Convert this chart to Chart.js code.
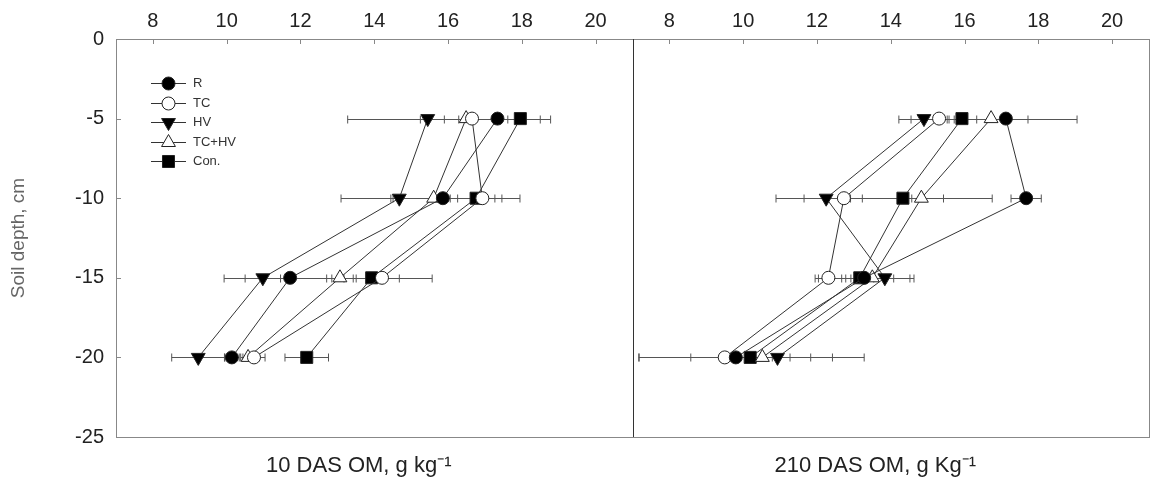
<!DOCTYPE html>
<html>
<head>
<meta charset="utf-8">
<script src="https://cdn.jsdelivr.net/npm/chart.js@4.4.0/dist/chart.umd.min.js"></script>
<style>
  html, body { margin: 0; padding: 0; background: #fff; }
  #wrap { width: 1171px; height: 493px; position: relative; }
</style>
</head>
<body>
<div id="wrap"><canvas id="grafico"></canvas></div>
<script>
// ======== Data ========

const depths = [-5, -10, -15, -20];
const seriesNames = ['R', 'TC', 'HV', 'TC+HV', 'Con.'];
const xTicks = [8, 10, 12, 14, 16, 18, 20];
const yTicks = [0, -5, -10, -15, -20, -25];

// 10 DAS OM (left panel)
const om10R = [17.34, 15.86, 11.72, 10.14];
const om10TC = [16.65, 16.93, 14.21, 10.74];
const om10HV = [15.45, 14.68, 10.98, 9.23];
const om10TCHV = [16.49, 15.61, 13.07, 10.58];
const om10Con = [17.96, 16.76, 13.93, 12.17];

const err10R = [1.44, 1.41, 1.79, 0.2];
const err10TC = [1.4, 1.02, 1.36, 0.3];
const err10HV = [2.17, 1.58, 0.48, 0.72];
const err10TCHV = [0.2, 1.1, 0.36, 0.2];
const err10Con = [0.54, 0.7, 0.75, 0.59];

// 210 DAS OM (right panel)
const om210R = [17.12, 17.67, 13.28, 9.8];
const om210TC = [15.31, 12.73, 12.31, 9.5];
const om210HV = [14.9, 12.25, 13.84, 10.93];
const om210TCHV = [16.72, 14.83, 13.5, 10.52];
const om210Con = [15.93, 14.33, 13.16, 10.19];

const err210R = [1.93, 0.41, 1.24, 2.62];
const err210TC = [0.76, 1.84, 0.36, 2.33];
const err210HV = [0.68, 0.6, 0.79, 2.35];
const err210TCHV = [1.0, 1.92, 0.58, 0.75];
const err210Con = [0.4, 1.1, 0.38, 0.6];

const om10 = [om10R, om10TC, om10HV, om10TCHV, om10Con];
const err10 = [err10R, err10TC, err10HV, err10TCHV, err10Con];
const om210 = [om210R, om210TC, om210HV, om210TCHV, om210Con];
const err210 = [err210R, err210TC, err210HV, err210TCHV, err210Con];

// marker look for each treatment
const markers = [
  { pointStyle: 'circle', radius: 6.5, fill: '#000', rotation: 0 },
  { pointStyle: 'circle', radius: 6.5, fill: '#fff', rotation: 0 },
  { pointStyle: 'triangle', radius: 8, fill: '#000', rotation: 180 },
  { pointStyle: 'triangle', radius: 8, fill: '#fff', rotation: 0 },
  { pointStyle: 'rect', radius: 8.5, fill: '#000', rotation: 0 },
];

Chart.defaults.font.family = '"Liberation Sans", Arial, sans-serif';
Chart.defaults.color = '#222';

function makeDatasets(values, errors, axisId) {
  return values.map((serie, i) => ({
    label: seriesNames[i],
    data: serie.map((v, j) => ({ x: v, y: depths[j] })),
    errors: errors[i],
    xAxisID: axisId,
    yAxisID: 'y',
    borderColor: '#333',
    borderWidth: 1,
    pointStyle: markers[i].pointStyle,
    pointRadius: markers[i].radius,
    pointHoverRadius: markers[i].radius,
    pointRotation: markers[i].rotation,
    pointBackgroundColor: markers[i].fill,
    pointBorderColor: '#222',
    pointBorderWidth: 1,
    fill: false,
    tension: 0,
  }));
}

// ======== Plugins ========

// horizontal error bars, under the markers
const errorBars = {
  id: 'errorBars',
  beforeDatasetsDraw(chart) {
    const ctx = chart.ctx;
    const yScale = chart.scales.y;
    ctx.save();
    ctx.strokeStyle = '#555';
    ctx.lineWidth = 1;
    chart.data.datasets.forEach((ds) => {
      const xScale = chart.scales[ds.xAxisID];
      ds.data.forEach((p, j) => {
        const e = ds.errors[j];
        const x1 = xScale.getPixelForValue(p.x - e);
        const x2 = xScale.getPixelForValue(p.x + e);
        const py = Math.round(yScale.getPixelForValue(p.y)) + 0.5;
        ctx.beginPath();
        ctx.moveTo(x1, py);
        ctx.lineTo(x2, py);
        ctx.moveTo(x1, py - 4);
        ctx.lineTo(x1, py + 4);
        ctx.moveTo(x2, py - 4);
        ctx.lineTo(x2, py + 4);
        ctx.stroke();
      });
    });
    ctx.restore();
  },
};

// frame, divider and inward tick marks
const frame = {
  id: 'frame',
  afterDatasetsDraw(chart) {
    const ctx = chart.ctx;
    const a = chart.chartArea;
    const yScale = chart.scales.y;
    ctx.save();
    ctx.lineWidth = 1;
    ctx.strokeStyle = '#888';
    ctx.strokeRect(Math.round(a.left) + 0.5, Math.round(a.top) + 0.5,
      Math.round(a.right - a.left), Math.round(a.bottom - a.top));

    ctx.beginPath();
    ['x', 'x2'].forEach((id) => {
      const s = chart.scales[id];
      xTicks.forEach((v) => {
        const px = Math.round(s.getPixelForValue(v)) + 0.5;
        ctx.moveTo(px, a.top);
        ctx.lineTo(px, a.top + 5);
      });
    });
    yTicks.forEach((v) => {
      const py = Math.round(yScale.getPixelForValue(v)) + 0.5;
      ctx.moveTo(a.left, py);
      ctx.lineTo(a.left + 5, py);
    });
    ctx.stroke();

    // divider between the two panels
    const xd = Math.round(chart.scales.x.right) + 0.5;
    ctx.strokeStyle = '#333';
    ctx.beginPath();
    ctx.moveTo(xd, a.top);
    ctx.lineTo(xd, a.bottom);
    ctx.stroke();
    ctx.restore();
  },
};

// legend with line + marker, inside the left panel
const legendBox = {
  id: 'legendBox',
  afterDraw(chart) {
    const ctx = chart.ctx;
    const a = chart.chartArea;
    const x0 = a.left + 35;
    const y0 = a.top + 44;
    ctx.save();
    seriesNames.forEach((name, i) => {
      const yy = y0 + i * 19.6;
      ctx.strokeStyle = '#333';
      ctx.lineWidth = 1;
      ctx.beginPath();
      ctx.moveTo(x0, Math.round(yy) + 0.5);
      ctx.lineTo(x0 + 35, Math.round(yy) + 0.5);
      ctx.stroke();
      ctx.fillStyle = markers[i].fill;
      ctx.strokeStyle = '#222';
      Chart.helpers.drawPoint(ctx, {
        pointStyle: markers[i].pointStyle,
        radius: markers[i].radius,
        rotation: markers[i].rotation,
        borderWidth: 1,
      }, x0 + 17.5, Math.round(yy) + 0.5);
      ctx.fillStyle = '#333';
      ctx.font = '13px "Liberation Sans", Arial, sans-serif';
      ctx.textBaseline = 'middle';
      ctx.fillText(name, x0 + 42, Math.round(yy) + 0.5);
    });
    ctx.restore();
  },
};

// ======== Scales ========

function topAxis() {
  return {
    type: 'linear',
    position: 'top',
    stack: 'top',
    min: 7,
    max: 21,
    afterBuildTicks: (s) => { s.ticks = xTicks.map((v) => ({ value: v })); },
    afterFit: (s) => { s.height = 39; },
    grid: { display: false, drawTicks: false },
    border: { display: false },
    ticks: { font: { size: 20 }, padding: 6, color: '#222' },
  };
}

// the titles sit a little left of each panel centre in the original
function bottomTitle(text, weight) {
  return {
    type: 'linear',
    position: 'bottom',
    stack: 'bottom',
    stackWeight: weight,
    min: 7,
    max: 21,
    afterFit: (s) => { s.height = 56; },
    grid: { display: false, drawTicks: false },
    border: { display: false },
    ticks: { display: false },
    title: {
      display: true,
      text: text,
      color: '#222',
      font: { size: 22 },
      padding: { top: 0, bottom: 14 },
    },
  };
}

// ======== Chart ========

new Chart(document.getElementById('grafico'), {
  type: 'line',
  data: {
    datasets: [
      ...makeDatasets(om10, err10, 'x'),
      ...makeDatasets(om210, err210, 'x2'),
    ],
  },
  options: {
    responsive: true,
    maintainAspectRatio: false,
    animation: false,
    layout: { padding: { right: 22 } },
    plugins: { legend: { display: false }, tooltip: { enabled: false } },
    scales: {
      // top boxes are laid out in reverse order, so the right panel comes first
      x2: topAxis(),
      x: topAxis(),
      xb1: bottomTitle('10 DAS OM, g kg\u207B\u00B9', 0.47),
      xb2: bottomTitle('210 DAS OM, g Kg\u207B\u00B9', 0.53),
      y: {
        type: 'linear',
        position: 'left',
        min: -25,
        max: 0,
        afterBuildTicks: (s) => { s.ticks = yTicks.map((v) => ({ value: v })); },
        afterFit: (s) => { s.width = 116; },
        grid: { display: false, drawTicks: false },
        border: { display: false },
        ticks: { font: { size: 20 }, padding: 12, color: '#222' },
        title: {
          display: true,
          text: 'Soil depth, cm',
          color: '#666',
          font: { size: 19 },
          padding: { top: 7, bottom: 0 },
        },
      },
    },
  },
  plugins: [errorBars, frame, legendBox],
});
</script>
</body>
</html>
